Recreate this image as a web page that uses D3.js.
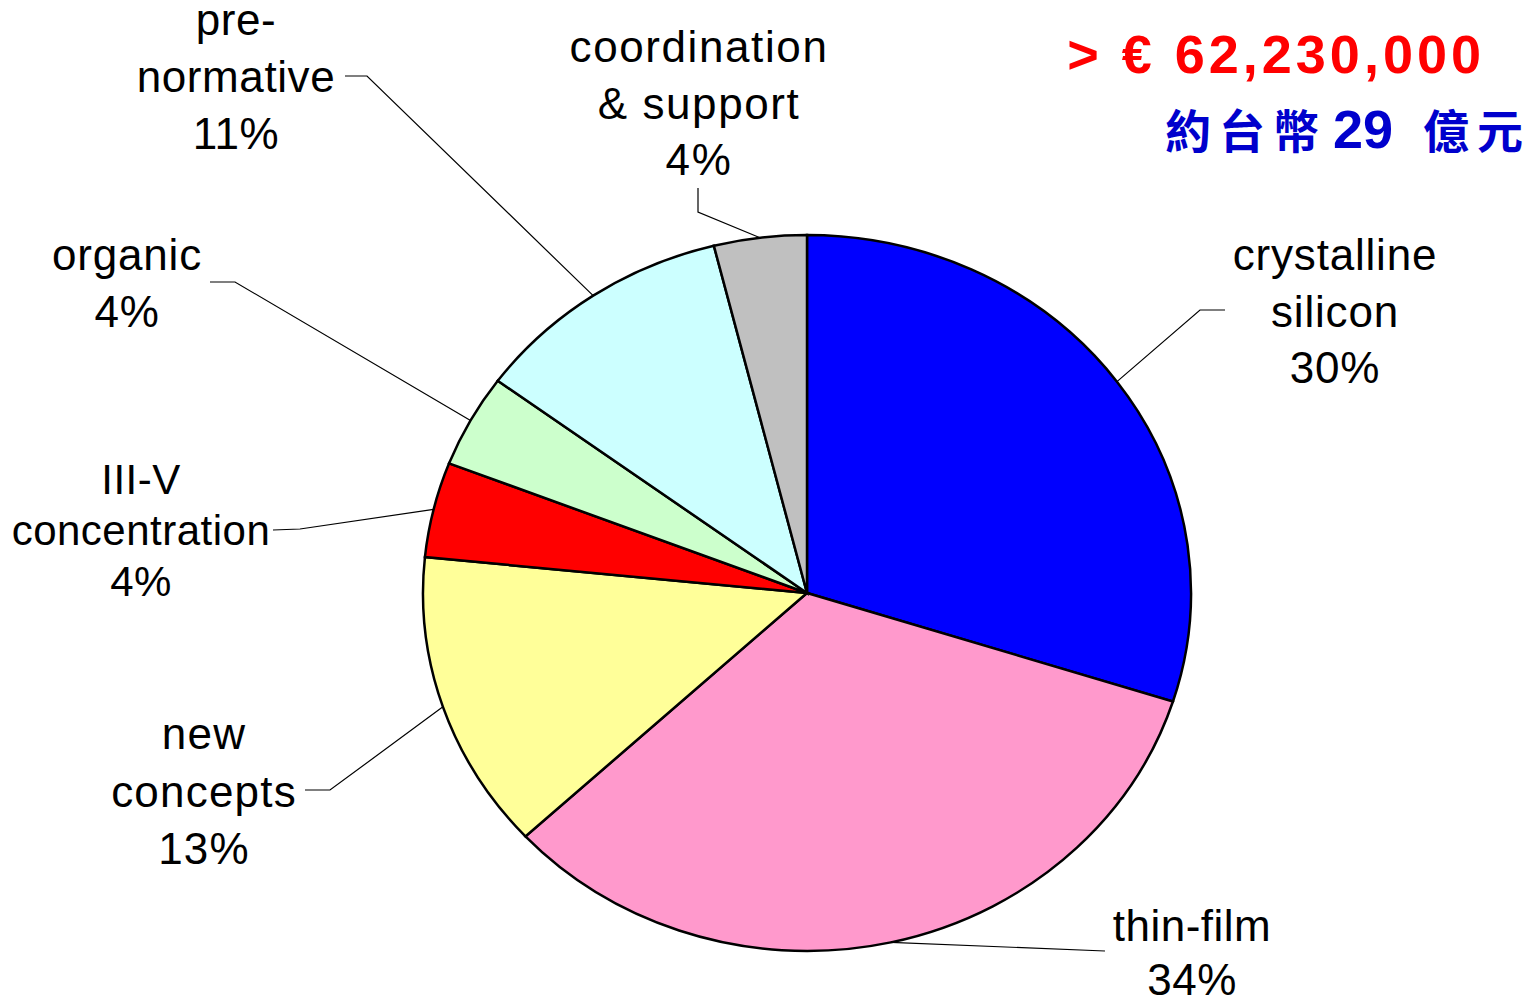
<!DOCTYPE html>
<html>
<head>
<meta charset="utf-8">
<script src="https://cdn.jsdelivr.net/npm/d3@7"></script>
<style>
  body { margin: 0; background: #fff; }
  svg { display: block; }
  .label { font-family: "Liberation Sans", Arial, sans-serif; font-size: 44px; fill: #000; letter-spacing: 0.5px; }
  .leader { fill: none; stroke: #000; stroke-width: 1.2; }
  .slice { stroke: #000; stroke-width: 2.5; vector-effect: non-scaling-stroke; }
</style>
</head>
<body>
<script>
// segment data, clockwise from 12 o'clock
var categories = ["crystalline silicon", "thin-film", "new concepts", "III-V concentration", "organic", "pre-normative", "coordination & support"];
var shares = [29.9, 33.2, 13.5, 4.3, 4.2, 11.0, 3.9];
var shareLabels = ["30%", "34%", "13%", "4%", "4%", "11%", "4%"];
var labelLines = [
  ["crystalline", "silicon"],
  ["thin-film"],
  ["new", "concepts"],
  ["III-V", "concentration"],
  ["organic"],
  ["pre-", "normative"],
  ["coordination", "& support"]
];
var colors = ["#0000FF", "#FF99CC", "#FFFF99", "#FF0000", "#CCFFCC", "#CCFFFF", "#C0C0C0"];

var totalText = "> € 62,230,000";

var width = 1538, height = 996;
var cx = 807, cy = 593, rx = 384, ry = 358;
var ky = ry / rx;

// label layout: text centre x, first baseline, line step, leader elbow and end
var layout = [
  { x: 1335, y: 270, dy: 56.5, size: 44, ls: 0.8, elbow: [1200, 310], end: [1225, 310] },
  { x: 1192, y: 941, dy: 54, size: 44, ls: 0.5, elbow: [1105, 951], end: [1105, 951] },
  { x: 204, y: 749, dy: 57.5, size: 44, ls: 1.2, elbow: [330, 790], end: [305, 790] },
  { x: 141, y: 494, dy: 51, size: 42, ls: 0.5, elbow: [300, 529], end: [273, 530] },
  { x: 127, y: 270, dy: 57, size: 44, ls: 0.8, elbow: [235, 282], end: [210, 282] },
  { x: 236, y: 35, dy: 57, size: 44, ls: 0.6, elbow: [367, 76], end: [345, 76] },
  { x: 699, y: 62, dy: 56.5, size: 44, ls: 1.6, elbow: [698, 212], end: [698, 188] }
];

var svg = d3.select("body").append("svg")
  .attr("width", width)
  .attr("height", height);

var pie = d3.pie().sort(null).value(function(d) { return d; });
var arcs = pie(shares);
var arc = d3.arc().innerRadius(0).outerRadius(rx);

var pieGroup = svg.append("g")
  .attr("transform", "translate(" + cx + "," + cy + ") scale(1," + ky + ")");

pieGroup.selectAll(".slice")
  .data(arcs)
  .enter().append("path")
    .classed("slice", true)
    .attr("d", arc)
    .attr("fill", function(d, i) { return colors[i]; });

// leader lines from the middle of each slice edge
var line = d3.line();
svg.selectAll(".leader")
  .data(arcs)
  .enter().append("path")
    .classed("leader", true)
    .attr("d", function(d, i) {
      var a = (d.startAngle + d.endAngle) / 2;
      var p = [cx + rx * Math.sin(a), cy - ry * Math.cos(a)];
      return line([p, layout[i].elbow, layout[i].end]);
    });

// labels
var labels = svg.selectAll(".label")
  .data(arcs)
  .enter().append("text")
    .classed("label", true)
    .attr("text-anchor", "middle")
    .style("font-size", function(d, i) { return layout[i].size + "px"; })
    .style("letter-spacing", function(d, i) { return layout[i].ls + "px"; });

labels.each(function(d, i) {
  var t = d3.select(this);
  var rows = labelLines[i].concat([shareLabels[i]]);
  rows.forEach(function(r, j) {
    t.append("tspan")
      .attr("x", layout[i].x)
      .attr("y", layout[i].y + j * layout[i].dy)
      .text(r);
  });
});

// total budget
svg.append("text")
  .attr("x", 1485)
  .attr("y", 73)
  .attr("text-anchor", "end")
  .style("font-family", "'Liberation Sans', Arial, sans-serif")
  .style("font-weight", "bold")
  .style("font-size", "54px")
  .style("letter-spacing", "4px")
  .attr("fill", "#FF0000")
  .text(totalText);

var ntd = svg.append("g")
  .attr("fill", "#0000CC")
  .style("font-weight", "bold");
ntd.append("text")
  .attr("x", 1165)
  .attr("y", 148)
  .style("font-family", "'Noto Sans CJK TC', sans-serif")
  .style("font-size", "46px")
  .style("letter-spacing", "8px")
  .text("約台幣");
ntd.append("text")
  .attr("x", 1333)
  .attr("y", 148)
  .style("font-family", "'Liberation Sans', Arial, sans-serif")
  .style("font-size", "54px")
  .text("29");
ntd.append("text")
  .attr("x", 1423)
  .attr("y", 148)
  .style("font-family", "'Noto Sans CJK TC', sans-serif")
  .style("font-size", "46px")
  .style("letter-spacing", "8px")
  .text("億元");
</script>
</body>
</html>
